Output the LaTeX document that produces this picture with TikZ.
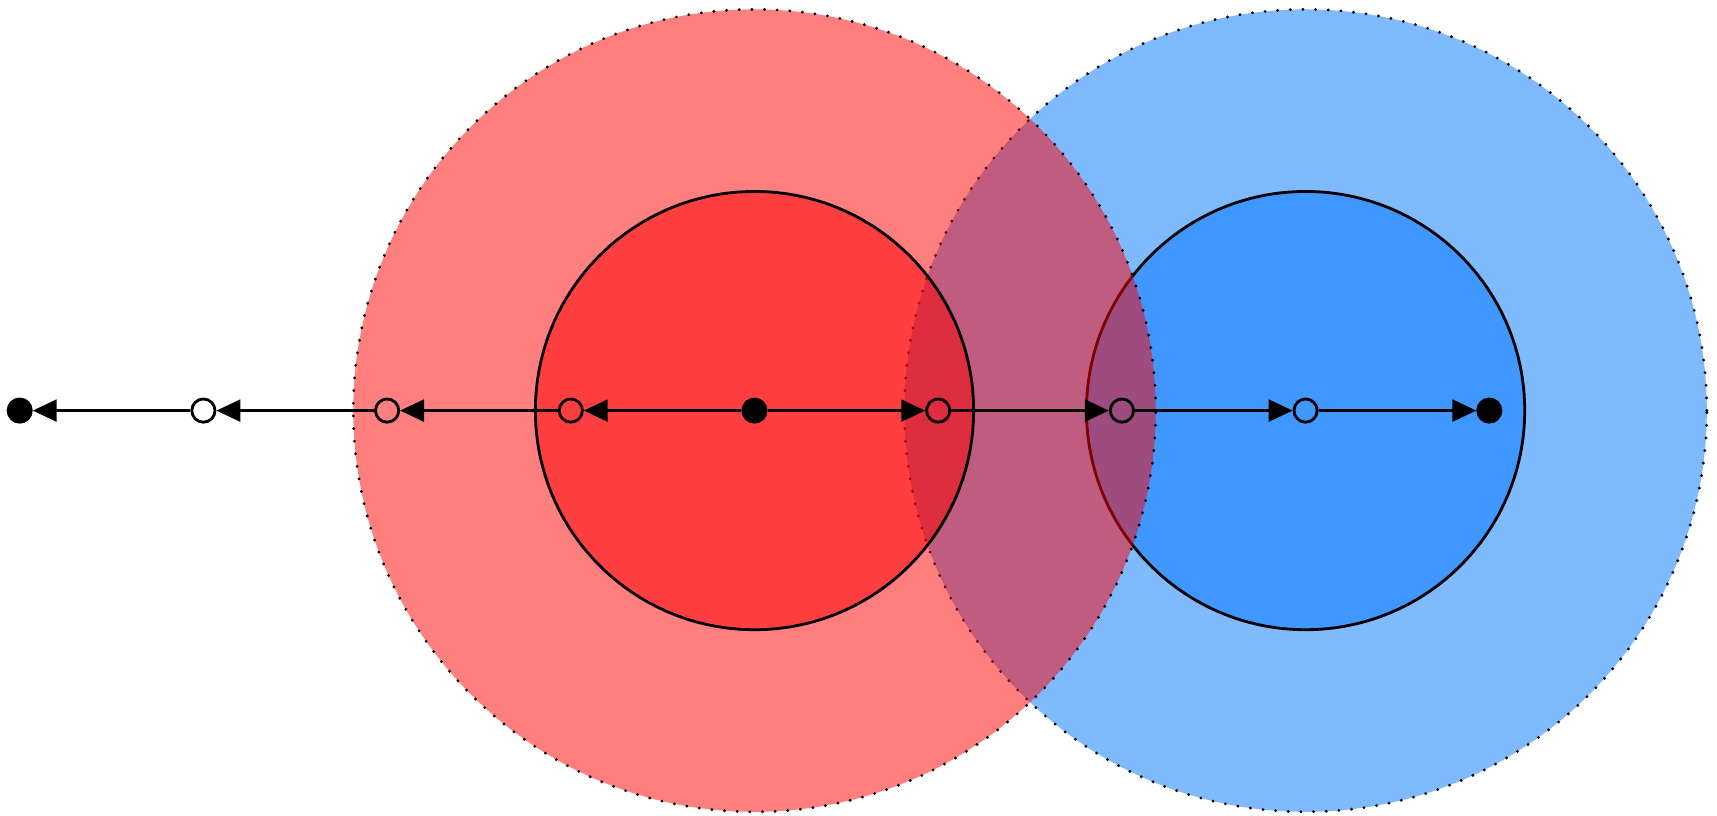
\documentclass[tikz,border=0pt]{standalone}
\usetikzlibrary{arrows.meta}
\definecolor{myred}{RGB}{255,0,0}
\definecolor{myblue}{RGB}{0,117,255}
\begin{document}
\begin{tikzpicture}[x=0.01cm,y=-0.01cm,
 outer/.style={fill opacity=0.5, draw=black, line width=0.9pt, dash pattern=on 0pt off 3.6pt, line cap=round},
 inner/.style={fill opacity=0.5, draw=black, line width=0.8pt},
 pt/.style={circle, draw=black, line width=0.8pt, minimum size=6.6pt, inner sep=0pt},
 full/.style={pt, fill=black},
 open/.style={pt},
 arr/.style={line width=0.8pt, -{Triangle[length=6.8pt,width=6.2pt]}}]
\useasboundingbox (0,0) rectangle (1717,816);
% blue first
\draw[outer, fill=myblue] (1305.6,410.6) circle[radius=4.01cm];
\draw[inner, fill=myblue] (1305.6,410.6) circle[radius=2.19cm];
% red on top
\draw[outer, fill=myred] (754.5,410.6) circle[radius=4.01cm];
\draw[inner, fill=myred] (754.5,410.6) circle[radius=2.19cm];
% points
\node[full] (n0) at (19.7,410.6) {};
\node[open] (n1) at (203.4,410.6) {};
\node[open] (n2) at (387.1,410.6) {};
\node[open] (n3) at (570.8,410.6) {};
\node[full] (n4) at (754.5,410.6) {};
\node[open] (n5) at (938.2,410.6) {};
\node[open] (n6) at (1121.9,410.6) {};
\node[open] (n7) at (1305.6,410.6) {};
\node[full] (n8) at (1489.3,410.6) {};
% arrows
\draw[arr] (n4) -- (n3);
\draw[arr] (n3) -- (n2);
\draw[arr] (n2) -- (n1);
\draw[arr] (n1) -- (n0);
\draw[arr] (n4) -- (n5);
\draw[arr] (n5) -- (n6);
\draw[arr] (n6) -- (n7);
\draw[arr] (n7) -- (n8);
\end{tikzpicture}
\end{document}
